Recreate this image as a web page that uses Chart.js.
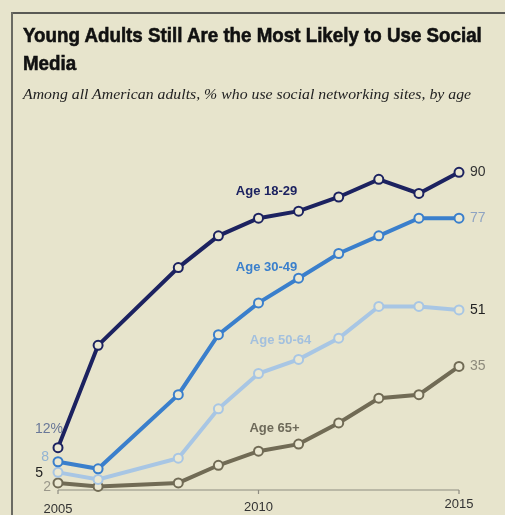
<!DOCTYPE html>
<html>
<head>
<meta charset="utf-8">
<script src="https://cdn.jsdelivr.net/npm/chart.js@4/dist/chart.umd.min.js"></script>
<style>
  body { margin: 0; background: #e7e4cc; }
  #wrap { position: relative; width: 505px; height: 515px; overflow: hidden; background: #e7e4cc; }
  #chart { position: absolute; left: 0; top: 0; }
  .rule { position: absolute; background: #5a5a55; }
  #title { position: absolute; left: 23px; top: 21px; font: bold 21px "Liberation Sans", Arial, sans-serif;
           line-height: 28px; color: #111; white-space: nowrap; transform-origin: 0 0;
           -webkit-text-stroke: 0.6px #111; }
  #sub { position: absolute; left: 23px; top: 85px; font: italic 15px "Liberation Serif", Georgia, serif;
         line-height: 18px; color: #222; white-space: nowrap; transform-origin: 0 0; }
</style>
</head>
<body>
<div id="wrap">
  <canvas id="chart" width="505" height="515"></canvas>
  <div class="rule" style="left:12px;top:12px;width:493px;height:2px"></div>
  <div class="rule" style="left:11px;top:12px;width:2px;height:503px;background:#6a6a62"></div>
  <div id="title"><span id="t1">Young Adults Still Are the Most Likely to Use Social</span><br>Media</div>
  <div id="sub"><span id="s1">Among all American adults, % who use social networking sites, by age</span></div>
</div>
<script>
// survey years and % of adults using social networking sites
var years = [2005, 2006, 2008, 2009, 2010, 2011, 2012, 2013, 2014, 2015];
var age1829 = [12, 41, 63, 72, 77, 79, 83, 88, 84, 90];
var age3049 = [8, 6, 27, 44, 53, 60, 67, 72, 77, 77];
var age5064 = [5, 3, 9, 23, 33, 37, 43, 52, 52, 51];
var age65 = [2, 1, 2, 7, 11, 13, 19, 26, 27, 35];
var seriesNames = ['Age 18-29', 'Age 30-49', 'Age 50-64', 'Age 65+'];
var tickYears = [2005, 2010, 2015];

// squeeze the headline to the condensed width of the original
function fit(id, box, target) {
    var w = document.getElementById(id).offsetWidth;
    document.getElementById(box).style.transform = 'scaleX(' + (target / w) + ')';
}
fit('t1', 'title', 459);
fit('s1', 'sub', 448);

var bg = '#ebe8d2';
var colors = ['#1c2260', '#3a7fcc', '#a8c6e4', '#716b55'];
var series = [age1829, age3049, age5064, age65];

function make_dataset(i) {
    return {
        label: seriesNames[i],
        data: years.map(function (y, k) { return { x: y, y: series[i][k] }; }),
        borderColor: colors[i],
        borderWidth: 4,
        pointRadius: 4.5,
        pointBorderWidth: 2,
        pointBackgroundColor: bg,
        pointBorderColor: colors[i],
        tension: 0,
        clip: false
    };
}

var labelPlugin = {
    id: 'labels',
    beforeDatasetsDraw: function (chart) {
        var ctx = chart.ctx, xs = chart.scales.x, ys = chart.scales.y;
        var y0 = ys.getPixelForValue(0);
        ctx.save();
        ctx.strokeStyle = '#8d8b80';
        ctx.lineWidth = 1.2;
        ctx.beginPath();
        ctx.moveTo(xs.getPixelForValue(2005), y0);
        ctx.lineTo(xs.getPixelForValue(2015), y0);
        tickYears.forEach(function (t) {
            var px = xs.getPixelForValue(t);
            ctx.moveTo(px, y0);
            ctx.lineTo(px, y0 + 4);
        });
        ctx.stroke();
        ctx.fillStyle = '#333';
        ctx.font = '13px "Liberation Sans", Arial, sans-serif';
        ctx.textAlign = 'center';
        ctx.textBaseline = 'middle';
        var tickDy = [19, 17, 14];
        tickYears.forEach(function (t, i) {
            ctx.fillText(String(t), xs.getPixelForValue(t), y0 + tickDy[i]);
        });
        ctx.restore();
    },
    afterDatasetsDraw: function (chart) {
        var ctx = chart.ctx, xs = chart.scales.x, ys = chart.scales.y;
        ctx.save();
        ctx.textBaseline = 'middle';

        // series names inside the plot
        var namePos = [[2010.2, 84.5], [2010.2, 63], [2010.55, 42.5], [2010.4, 17.5]];
        var nameCol = ['#1c2260', '#3a7fcc', '#a3c0de', '#6e6a5a'];
        ctx.font = 'bold 13px "Liberation Sans", Arial, sans-serif';
        ctx.textAlign = 'center';
        seriesNames.forEach(function (n, i) {
            ctx.fillStyle = nameCol[i];
            ctx.fillText(n, xs.getPixelForValue(namePos[i][0]), ys.getPixelForValue(namePos[i][1]));
        });

        // end values
        var endCol = ['#333', '#8ea3c2', '#222', '#8d8a7c'];
        var last = years.length - 1;
        ctx.font = '14px "Liberation Sans", Arial, sans-serif';
        ctx.textAlign = 'left';
        series.forEach(function (s, i) {
            ctx.fillStyle = endCol[i];
            ctx.fillText(String(s[last]), xs.getPixelForValue(years[last]) + 11, ys.getPixelForValue(s[last]));
        });

        // start values
        var startCol = ['#6a7898', '#92b3d3', '#222', '#9a978a'];
        var startDx = [5, -9, -15, -7];
        var startDy = [-18, -5, 1, 4];
        ctx.textAlign = 'right';
        series.forEach(function (s, i) {
            ctx.fillStyle = startCol[i];
            var txt = i === 0 ? s[0] + '%' : String(s[0]);
            ctx.fillText(txt, xs.getPixelForValue(years[0]) + startDx[i], ys.getPixelForValue(s[0]) + startDy[i]);
        });
        ctx.restore();
    }
};

var chart = new Chart(document.getElementById('chart'), {
    type: 'line',
    data: { datasets: [0, 1, 2, 3].map(make_dataset) },
    options: {
        responsive: false,
        animation: false,
        layout: { padding: { left: 58, right: 46, top: 137, bottom: 25 } },
        scales: {
            x: { type: 'linear', min: 2005, max: 2015, display: false },
            y: { min: 0, max: 100, display: false }
        },
        plugins: { legend: { display: false }, tooltip: { enabled: false } }
    },
    plugins: [labelPlugin]
});
</script>
</body>
</html>
